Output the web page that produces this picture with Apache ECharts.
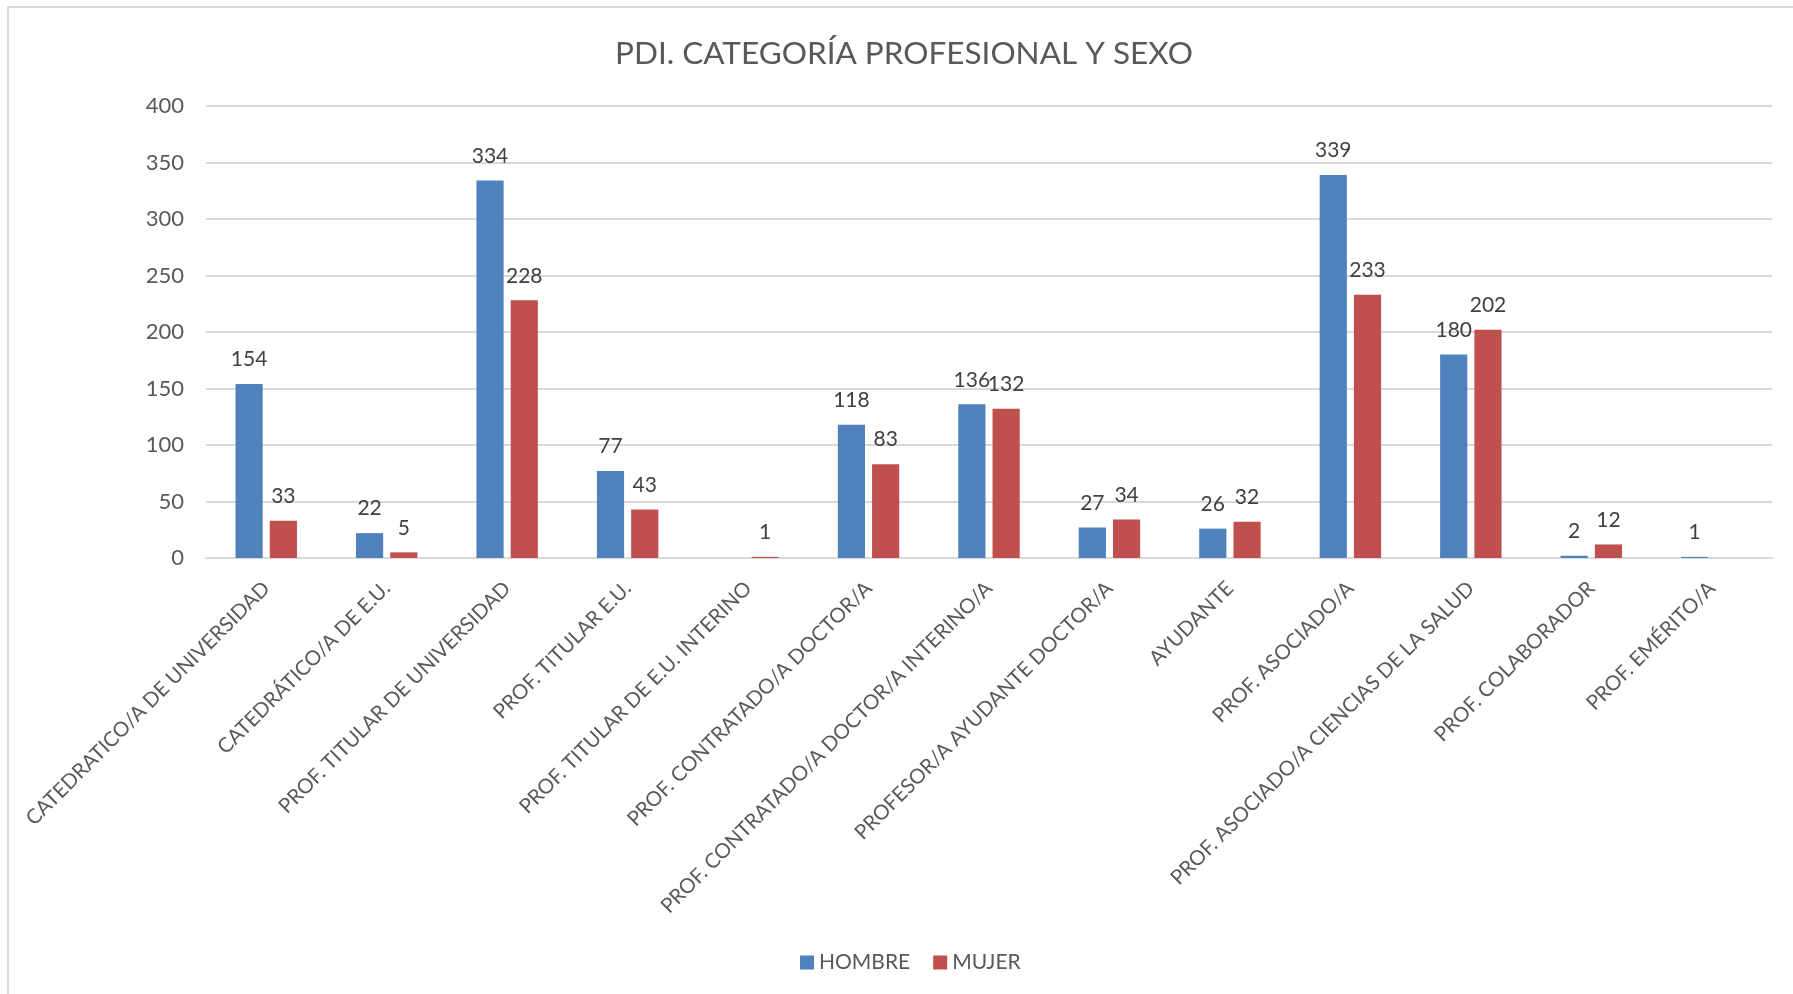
<!DOCTYPE html>
<html>
<head>
<meta charset="utf-8">
<script src="https://cdn.jsdelivr.net/npm/echarts@6/dist/echarts.min.js"></script>
<style>
  html, body { margin: 0; padding: 0; background: #ffffff; }
  #chart { position: absolute; left: 0; top: 0; width: 1793px; height: 994px; }
  #frame { position: absolute; left: 7px; top: 6px; width: 1800px; height: 1000px;
           border-left: 2px solid #d9d9d9; border-top: 2px solid #d9d9d9; pointer-events: none; }
</style>
</head>
<body>
<div id="chart"></div>
<div id="frame"></div>
<script>
const titleText = 'PDI. CATEGORÍA PROFESIONAL Y SEXO';
const categories = [
  'CATEDRATICO/A DE UNIVERSIDAD',
  'CATEDRÁTICO/A DE E.U.',
  'PROF. TITULAR DE UNIVERSIDAD',
  'PROF. TITULAR E.U.',
  'PROF. TITULAR DE E.U. INTERINO',
  'PROF. CONTRATADO/A DOCTOR/A',
  'PROF. CONTRATADO/A DOCTOR/A INTERINO/A',
  'PROFESOR/A AYUDANTE DOCTOR/A',
  'AYUDANTE',
  'PROF. ASOCIADO/A',
  'PROF. ASOCIADO/A CIENCIAS DE LA SALUD',
  'PROF. COLABORADOR',
  'PROF. EMÉRITO/A'
];
const hombre = [154, 22, 334, 77, null, 118, 136, 27, 26, 339, 180, 2, 1];
const mujer  = [33, 5, 228, 43, 1, 83, 132, 34, 32, 233, 202, 12, null];
const seriesNames = ['HOMBRE', 'MUJER'];
const yTicks = { min: 0, max: 400, interval: 50 };

const FONT = 'Lato';
const chart = echarts.init(document.getElementById('chart'), null, { renderer: 'canvas' });
const labelCfg = {
  show: true, position: 'top', distance: 14,
  color: '#404040', fontFamily: FONT, fontSize: 21
};
chart.setOption({
  animation: false,
  backgroundColor: '#ffffff',
  title: {
    text: titleText, left: 899, top: 33, textAlign: 'center',
    textStyle: { color: '#595959', fontFamily: FONT, fontSize: 31.5, fontWeight: 'normal' }
  },
  legend: {
    data: seriesNames, bottom: 16, left: 795,
    icon: 'rect', itemWidth: 14, itemHeight: 14, itemGap: 23,
    textStyle: { color: '#595959', fontFamily: FONT, fontSize: 21 }
  },
  grid: { left: 206, right: 21, top: 106, bottom: 436 },
  xAxis: {
    type: 'category', data: categories,
    axisLine: { show: true, lineStyle: { color: '#d9d9d9', width: 2 } },
    axisTick: { show: false },
    axisLabel: { rotate: 45, margin: 27, interval: 0, color: '#595959', fontFamily: FONT, fontSize: 20.5 }
  },
  yAxis: {
    type: 'value', min: yTicks.min, max: yTicks.max, interval: yTicks.interval,
    axisLine: { show: false }, axisTick: { show: false },
    splitLine: { lineStyle: { color: '#d9d9d9', width: 2 } },
    axisLabel: { margin: 22, color: '#595959', fontFamily: FONT, fontSize: 22 }
  },
  series: [
    { name: seriesNames[0], type: 'bar', data: hombre, itemStyle: { color: '#4f81bd' },
      barGap: '26%', barCategoryGap: '49%', label: labelCfg },
    { name: seriesNames[1], type: 'bar', data: mujer, itemStyle: { color: '#c0504d' },
      barGap: '26%', barCategoryGap: '49%', label: labelCfg }
  ]
});
</script>
</body>
</html>
